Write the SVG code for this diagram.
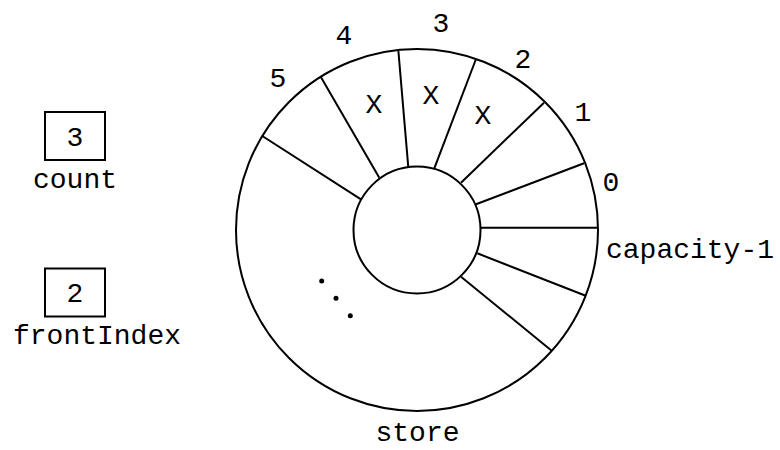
<svg xmlns="http://www.w3.org/2000/svg" width="780" height="450" viewBox="0 0 780 450">
<style>
text{font-family:"Liberation Mono","DejaVu Sans Mono",monospace;font-size:28px;fill:#000}
.m{text-anchor:middle}
.s{fill:none;stroke:#000;stroke-width:2}
</style>
<rect width="780" height="450" fill="#fff"/>
<g id="count">
<rect class="s" x="45" y="112" width="60" height="48"/>
<text class="m" x="75" y="146">3</text>
<text class="m" x="75" y="188">count</text>
</g>
<g id="frontIndex">
<rect class="s" x="45" y="268.5" width="60" height="48"/>
<text class="m" x="75" y="302">2</text>
<text class="m" x="97" y="344">frontIndex</text>
</g>
<g id="store">
<circle class="s" cx="417" cy="230" r="181"/>
<circle class="s" cx="417" cy="230" r="63.5"/>
<text class="m" x="417.5" y="441">store</text>
<text class="m" x="278" y="87">5</text>
<text class="m" x="344" y="44">4</text>
<text class="m" x="441" y="32">3</text>
<text class="m" x="523" y="68">2</text>
<text class="m" x="583" y="121">1</text>
<text class="m" x="611" y="191">0</text>
<text x="606" y="258">capacity-1</text>
<text class="m" x="374" y="112.5">X</text>
<text class="m" x="431" y="104">X</text>
<text class="m" x="483" y="124">X</text>
<circle cx="321.7" cy="281" r="2.5"/>
<circle cx="336" cy="298.3" r="2.5"/>
<circle cx="350.3" cy="315.7" r="2.5"/>
</g>
<g id="connectors" class="s">
<line x1="408.3" y1="167.3" x2="398.3" y2="50"/>
<line x1="434.3" y1="168.3" x2="476" y2="59"/>
<line x1="461" y1="182.7" x2="544" y2="102.7"/>
<line x1="476" y1="204.3" x2="584" y2="163.3"/>
<line x1="480.5" y1="227.7" x2="598" y2="227.7"/>
<line x1="477.3" y1="253.3" x2="585.7" y2="295.7"/>
<line x1="461" y1="276.7" x2="551.7" y2="350.7"/>
<line x1="379.3" y1="177.7" x2="321" y2="77.3"/>
<line x1="361" y1="199.3" x2="262.3" y2="136"/>
</g>
</svg>
